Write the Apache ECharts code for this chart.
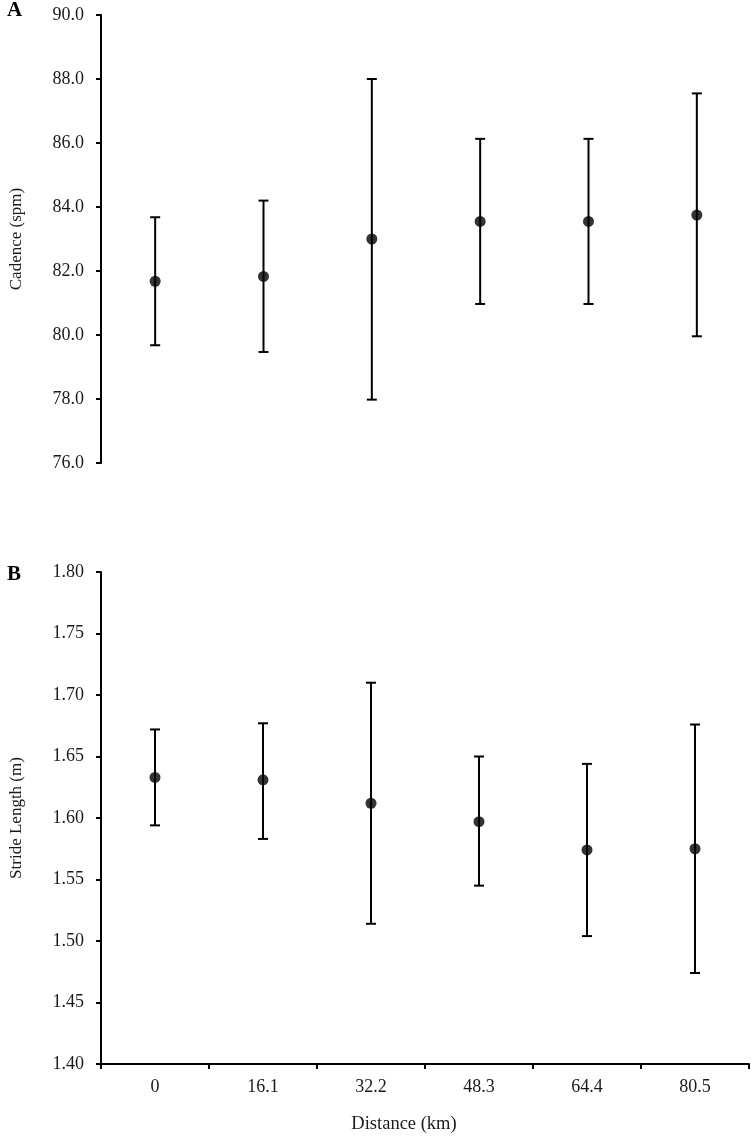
<!DOCTYPE html>
<html>
<head>
<meta charset="utf-8">
<script src="https://cdn.jsdelivr.net/npm/echarts@6/dist/echarts.min.js"></script>
<style>
  html, body { margin: 0; padding: 0; background: #fff; }
  #chart { width: 751px; height: 1137px; }
</style>
</head>
<body>
<div id="chart"></div>
<script>
// ---- data ----
const categories = ['0', '16.1', '32.2', '48.3', '64.4', '80.5'];
const cadenceMean = [81.68, 81.83, 83.0, 83.55, 83.55, 83.75];
const cadenceLow  = [79.68, 79.47, 77.98, 80.97, 80.97, 79.96];
const cadenceHigh = [83.68, 84.2, 88.0, 86.13, 86.13, 87.55];
const strideMean = [1.633, 1.631, 1.612, 1.597, 1.574, 1.575];
const strideLow  = [1.594, 1.583, 1.514, 1.545, 1.504, 1.474];
const strideHigh = [1.672, 1.677, 1.710, 1.650, 1.644, 1.676];

const font = 'Liberation Serif, Times New Roman, serif';
const txt = '#1a1a1a';

function errData(low, high) {
  return categories.map((c, i) => [i, low[i], high[i]]);
}
function renderErr(params, api) {
  const x = api.value(0);
  const lo = api.coord([x, api.value(1)]);
  const hi = api.coord([x, api.value(2)]);
  const hw = 5;
  const style = { stroke: '#000', lineWidth: 2 };
  return {
    type: 'group',
    children: [
      { type: 'line', shape: { x1: hi[0], y1: hi[1], x2: lo[0], y2: lo[1] }, style },
      { type: 'line', shape: { x1: hi[0] - hw, y1: hi[1], x2: hi[0] + hw, y2: hi[1] }, style },
      { type: 'line', shape: { x1: lo[0] - hw, y1: lo[1], x2: lo[0] + hw, y2: lo[1] }, style }
    ]
  };
}

const chart = echarts.init(document.getElementById('chart'), null, { renderer: 'canvas' });
const yAxisBase = {
  type: 'value',
  nameLocation: 'middle',
  nameGap: 76,
  nameTextStyle: { fontFamily: font, fontSize: 17, color: txt },
  axisLine: { show: true, lineStyle: { color: '#000', width: 2 } },
  axisTick: { show: true, inside: false, length: 5, lineStyle: { color: '#000', width: 2 } },
  axisLabel: { fontFamily: font, fontSize: 18, color: txt, margin: 17 },
  splitLine: { show: false }
};

chart.setOption({
  animation: false,
  backgroundColor: '#fff',
  grid: [
    { left: 99, top: 15, width: 653, height: 448 },
    { left: 99, top: 572, width: 650, height: 492 }
  ],
  xAxis: [
    {
      gridIndex: 0, type: 'category', data: categories, boundaryGap: true,
      axisLine: { show: false }, axisTick: { show: false }, axisLabel: { show: false }, splitLine: { show: false }
    },
    {
      gridIndex: 1, type: 'category', data: categories, boundaryGap: true,
      name: 'Distance (km)', nameLocation: 'middle', nameGap: 51,
      nameTextStyle: { fontFamily: font, fontSize: 18.5, color: txt, padding: [0, 42, 0, 0] },
      axisLine: { show: true, lineStyle: { color: '#000', width: 2 } },
      axisTick: { show: true, inside: false, length: 5, alignWithLabel: false, lineStyle: { color: '#000', width: 2 } },
      axisLabel: { fontFamily: font, fontSize: 18, color: txt, margin: 14 },
      splitLine: { show: false }
    }
  ],
  yAxis: [
    Object.assign({}, yAxisBase, {
      gridIndex: 0, name: 'Cadence (spm)', min: 76, max: 90, interval: 2,
      axisLabel: Object.assign({}, yAxisBase.axisLabel, { formatter: v => v.toFixed(1) })
    }),
    Object.assign({}, yAxisBase, {
      gridIndex: 1, name: 'Stride Length (m)', min: 1.4, max: 1.8, interval: 0.05,
      axisLabel: Object.assign({}, yAxisBase.axisLabel, { formatter: v => v.toFixed(2) })
    })
  ],
  series: [
    { type: 'custom', xAxisIndex: 0, yAxisIndex: 0, data: errData(cadenceLow, cadenceHigh), renderItem: renderErr, z: 2 },
    { type: 'scatter', xAxisIndex: 0, yAxisIndex: 0, data: cadenceMean, symbol: 'circle', symbolSize: 11,
      itemStyle: { color: '#000' }, z: 3 },
    { type: 'custom', xAxisIndex: 1, yAxisIndex: 1, data: errData(strideLow, strideHigh), renderItem: renderErr, z: 2 },
    { type: 'scatter', xAxisIndex: 1, yAxisIndex: 1, data: strideMean, symbol: 'circle', symbolSize: 11,
      itemStyle: { color: '#000' }, z: 3 }
  ],
  graphic: [
    { type: 'text', left: 7, top: 0, style: { text: 'A', font: 'bold 21px ' + font, fill: '#000' } },
    { type: 'text', left: 7, top: 564, style: { text: 'B', font: 'bold 21px ' + font, fill: '#000' } }
  ]
});
</script>
</body>
</html>
